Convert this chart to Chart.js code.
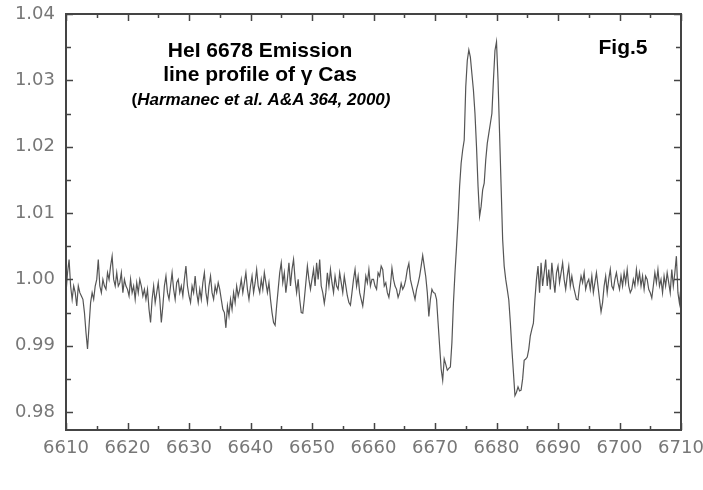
<!DOCTYPE html>
<html lang="en">
<head>
<meta charset="UTF-8">
<script src="https://cdn.jsdelivr.net/npm/chart.js@4.4.0/dist/chart.umd.min.js"></script>
<title>HeI 6678 line profile</title>
<style>
    body { margin: 0; background: #fff; }
    #wrap { position: relative; width: 703px; height: 490px; }
</style>
</head>
<body>
<div id="wrap"><canvas id="myChart"></canvas></div>
<script>
    // sampling of the spectrum (Angstrom)
    var startWl = 6610;
    var stepWl = 0.25;

    // relative flux, one row = 5 A
    var flux = [
        0.998,1.001,1.003,0.999,0.997,0.999,0.998,0.996,0.999,0.998,0.9975,0.997,0.995,0.992,0.9895,0.993,0.9965,0.998,0.997,0.999,
        1.000,1.003,0.999,0.998,1.000,0.999,0.9985,1.001,1.000,1.002,1.0035,1.000,0.999,1.001,0.999,0.9995,1.001,0.998,1.000,0.999,
        0.9985,0.9975,1.000,0.998,0.999,0.997,0.9995,0.998,1.000,0.999,0.9975,0.9985,0.997,0.9985,0.9955,0.9935,0.997,0.999,0.9965,0.998,
        0.9995,0.997,0.9935,0.996,0.999,1.0005,0.998,0.997,0.999,1.001,0.9985,0.997,0.9995,1.000,0.998,0.999,0.9975,1.000,1.002,0.999,
        0.9975,0.9965,0.999,0.998,1.0005,0.998,0.9965,0.9985,0.997,0.9995,1.001,0.998,0.9965,0.999,1.0005,0.998,0.997,0.999,0.998,0.9995,
        0.9985,0.997,0.9955,0.995,0.9927,0.996,0.9945,0.997,0.9955,0.998,0.9965,0.999,0.9975,0.9985,1.000,0.998,0.9995,1.001,0.9985,0.997,
        0.999,1.0005,0.998,0.9995,1.0015,0.999,0.998,1.000,0.9985,1.001,0.9995,0.998,0.9995,0.997,0.995,0.9935,0.9931,0.996,0.9985,1.001,
        1.0025,0.9995,1.001,0.998,1.000,1.0025,0.999,1.0015,1.003,1.000,0.998,1.000,0.997,0.995,0.9949,0.997,0.9995,1.002,1.000,0.9985,
        1.000,1.0015,0.999,1.0025,1.000,1.003,0.999,0.998,0.9964,0.998,1.001,0.999,1.0015,0.9995,0.998,1.0005,0.999,0.9985,1.001,0.9995,
        0.998,1.0005,0.999,0.9975,0.9965,0.9961,0.998,1.000,1.0015,0.999,1.0005,0.998,0.997,0.996,0.998,1.0005,0.9995,1.0015,0.999,1.000,
        1.000,0.999,0.9985,1.001,1.0005,1.002,1.0015,0.999,0.9995,0.998,0.9973,0.999,1.0017,1.000,0.999,0.9985,0.9973,0.998,0.9994,0.9985,
        0.999,1.000,1.0015,1.0024,1.000,0.999,0.998,0.997,0.9985,0.9994,1.0005,1.002,1.0036,1.002,1.0004,0.998,0.9944,0.997,0.9985,0.998,
        0.9979,0.997,0.9935,0.990,0.9865,0.9848,0.988,0.9872,0.9863,0.9866,0.9868,0.9905,0.9965,1.001,1.0049,1.009,1.014,1.0175,1.0195,1.021,
        1.029,1.033,1.0346,1.0335,1.031,1.0285,1.025,1.020,1.014,1.0095,1.011,1.0135,1.0145,1.018,1.0205,1.022,1.0235,1.025,1.030,1.0345,
        1.0358,1.030,1.022,1.014,1.006,1.002,1.000,0.9985,0.9969,0.9935,0.9895,0.986,0.9825,0.983,0.9838,0.9832,0.9833,0.985,0.9878,0.988,
        0.9883,0.9895,0.9915,0.9925,0.9934,0.997,1.000,1.002,0.998,1.0025,0.999,1.001,1.003,0.999,1.0015,0.9985,1.0025,1.000,0.998,1.001,
        1.002,0.9995,1.001,1.0025,1.000,0.9985,1.0005,1.002,0.999,1.0005,0.999,0.998,0.997,0.9969,0.999,1.0005,0.9995,1.001,0.9985,0.9995,
        1.000,0.9985,1.0005,0.998,0.9995,1.001,0.999,0.997,0.9951,0.9965,0.999,1.0005,0.998,1.000,1.0015,0.999,0.9985,1.000,1.001,0.9995,
        0.9985,1.0005,0.999,1.001,0.9995,1.0015,0.999,0.998,0.9985,1.000,0.999,1.0015,0.9995,1.001,0.999,1.0005,0.9985,1.0005,1.000,0.9985,
        0.998,0.9972,0.999,1.001,0.9995,1.0015,0.999,1.000,0.998,1.0005,0.999,1.001,0.9995,0.998,1.0015,0.999,1.001,1.0035,0.998,0.9964,
        0.999
    ];

    var xMin = 6610, xMax = 6710, xStep = 10;
    var yMin = 0.9773, yMax = 1.04, yStep = 0.01;

    var titleLines = ['HeI 6678 Emission', 'line profile of \u03b3 Cas'];
    var refText = 'Harmanec et al. A&A 364, 2000)';
    var figLabel = 'Fig.5';

    var points = flux.map(function (f, i) {
        return { x: startWl + i * stepWl, y: f };
    });

    // box, inward ticks and the texts
    var framePlugin = {
        id: 'frame',
        afterDraw: function (chart) {
            var ctx = chart.ctx;
            var a = chart.chartArea;
            var xs = chart.scales.x, ys = chart.scales.y;
            ctx.save();
            ctx.strokeStyle = '#444';
            ctx.lineWidth = 1.5;
            ctx.beginPath();
            for (var v = xMin; v <= xMax; v += 5) {
                var px = Math.round(xs.getPixelForValue(v)) + 0.5;
                var len = (v % 10 === 0) ? 7 : 4;
                ctx.moveTo(px, a.bottom); ctx.lineTo(px, a.bottom - len);
                ctx.moveTo(px, a.top); ctx.lineTo(px, a.top + len);
            }
            for (var k = 196; k <= 208; k++) {
                var py = Math.round(ys.getPixelForValue(k / 200)) + 0.5;
                var l2 = (k % 2 === 0) ? 7 : 5;
                ctx.moveTo(a.left, py); ctx.lineTo(a.left + l2, py);
                ctx.moveTo(a.right, py); ctx.lineTo(a.right - l2, py);
            }
            ctx.stroke();
            ctx.lineWidth = 2;
            ctx.strokeRect(a.left, a.top, a.right - a.left, a.bottom - a.top);

            ctx.fillStyle = '#000';
            ctx.textAlign = 'center';
            ctx.textBaseline = 'middle';
            ctx.font = 'bold 21px "Liberation Sans", Arial, sans-serif';
            ctx.fillText(titleLines[0], 260, 51);
            ctx.fillText(titleLines[1], 260, 75);
            ctx.fillText(figLabel, 623, 48);

            // "(" upright, rest italic
            var f1 = 'bold 17px "Liberation Sans", Arial, sans-serif';
            var f2 = 'italic bold 17px "Liberation Sans", Arial, sans-serif';
            ctx.font = f1;
            var w1 = ctx.measureText('(').width;
            ctx.font = f2;
            var w2 = ctx.measureText(refText).width;
            var x0 = 261 - (w1 + w2) / 2;
            ctx.textAlign = 'left';
            ctx.font = f1;
            ctx.fillText('(', x0, 100);
            ctx.font = f2;
            ctx.fillText(refText, x0 + w1, 100);
            ctx.restore();
        }
    };

    var tickFont = { family: '"DejaVu Sans", sans-serif', size: 18 };

    var ctx = document.getElementById('myChart').getContext('2d');
    var myChart = new Chart(ctx, {
        type: 'line',
        data: {
            datasets: [{
                data: points,
                borderColor: '#555',
                borderWidth: 1.2,
                pointRadius: 0,
                tension: 0
            }]
        },
        options: {
            responsive: true,
            maintainAspectRatio: false,
            animation: false,
            layout: { padding: { top: 14, right: 22, left: 0, bottom: 0 } },
            plugins: { legend: { display: false }, tooltip: { enabled: false } },
            scales: {
                x: {
                    type: 'linear',
                    min: xMin, max: xMax,
                    grid: { display: false, drawTicks: false },
                    border: { display: false },
                    ticks: {
                        stepSize: xStep,
                        padding: 8,
                        color: '#777',
                        font: tickFont,
                        maxRotation: 0,
                        callback: function (v) { return String(v); }
                    },
                    afterFit: function (s) {
                        s.height = 60;
                        s.paddingLeft = 0;
                        s.paddingRight = 0;
                    }
                },
                y: {
                    min: yMin, max: yMax,
                    grid: { display: false, drawTicks: false },
                    border: { display: false },
                    ticks: {
                        stepSize: yStep,
                        includeBounds: false,
                        padding: 11,
                        color: '#777',
                        font: tickFont,
                        callback: function (v) { return v.toFixed(2); }
                    },
                    afterFit: function (s) {
                        s.width = 66;
                        s.paddingTop = 0;
                        s.paddingBottom = 0;
                    }
                }
            }
        },
        plugins: [framePlugin]
    });
</script>
</body>
</html>
